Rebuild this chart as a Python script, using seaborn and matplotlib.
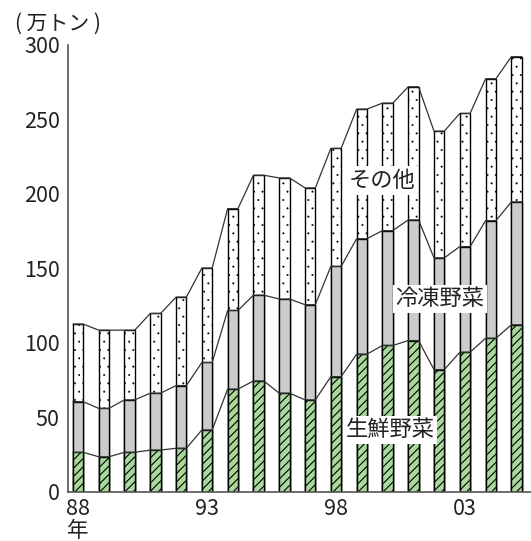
import seaborn as sns
import matplotlib.pyplot as plt
import pandas as pd
import numpy as np

# data (万トン)
years = list(range(1988, 2006))
fresh = [26.5, 23.5, 26.5, 28.0, 29.2, 41.5, 68.9, 74.4, 66.2, 61.7, 77.3, 92.4, 98.2, 101.5, 82.0, 93.7, 103.1, 112.1]
frozen = [34.0, 32.5, 35.2, 38.2, 42.1, 45.3, 52.8, 57.6, 63.2, 63.9, 74.0, 77.5, 77.1, 81.0, 75.0, 70.9, 78.9, 82.5]
other = [52.1, 52.5, 46.8, 53.5, 59.4, 63.4, 68.4, 80.5, 81.3, 78.4, 79.2, 87.0, 85.6, 89.4, 85.1, 89.4, 95.3, 97.5]
tick_years = ["88\n年", "93", "98", "03"]

df = pd.DataFrame({"year": [str(y) for y in years], "fresh": fresh, "frozen": frozen, "other": other})
df["mid"] = df["fresh"] + df["frozen"]
df["total"] = df["mid"] + df["other"]

sns.set_style("white")
plt.rcParams["font.family"] = ["Noto Sans CJK JP", "DejaVu Sans"]

fig = plt.figure(figsize=(5.31, 5.41), dpi=100)
ax = fig.add_axes([0.128, 0.091, 0.872, 0.826])

w = 0.4
# stacked bars drawn as overlapping cumulative bars
plt.rcParams["hatch.linewidth"] = 0.2
sns.barplot(data=df, x="year", y="total", color="white", edgecolor="black", linewidth=1,
            width=w, hatch="..", saturation=1, ax=ax)
sns.barplot(data=df, x="year", y="mid", color="#cccccc", edgecolor="black", linewidth=1,
            width=w, saturation=1, ax=ax)
plt.rcParams["hatch.linewidth"] = 0.8
sns.barplot(data=df, x="year", y="fresh", color="#a8d89c", edgecolor="black", linewidth=1,
            width=w, hatch="////", saturation=1, ax=ax)

# connector lines between bar tops
pos = np.arange(len(years))
for col in ["fresh", "mid", "total"]:
    xs = np.column_stack([pos - w / 2, pos + w / 2]).ravel()
    ys = np.repeat(df[col].values, 2)
    ax.plot(xs, ys, color="#333333", lw=0.9)

ax.set_xlim(-0.39, 17.56)
ax.set_ylim(0, 300)
ax.set_yticks([0, 50, 100, 150, 200, 250, 300])
ax.set_xticks([0, 5, 10, 15])
ax.set_xticklabels(tick_years, linespacing=1.0)
ax.set_xlabel("")
ax.set_ylabel("")
ax.tick_params(axis="y", direction="in", length=5, width=1, color="#555555", labelsize=15.5, pad=6)
ax.tick_params(axis="x", length=0, labelsize=15.5, pad=4.5)
for lbl in ax.get_xticklabels() + ax.get_yticklabels():
    lbl.set_color("#222222")

sns.despine(ax=ax)
for s in ["left", "bottom"]:
    ax.spines[s].set_color("#555555")
    ax.spines[s].set_linewidth(1.2)

box = dict(facecolor="white", edgecolor="none", pad=2)
ax.text(11.78, 209, "その他", ha="center", va="center", fontsize=16, color="#222222", bbox=box)
ax.text(14.03, 129.6, "冷凍野菜", ha="center", va="center", fontsize=16, color="#222222", bbox=box)
ax.text(12.09, 41.5, "生鮮野菜", ha="center", va="center", fontsize=16, color="#222222", bbox=box)

fig.text(15 / 531, 1 - 23.5 / 541, "( 万トン )", ha="left", va="center", fontsize=15, color="#222222")

fig.savefig("out.png", dpi=100)
